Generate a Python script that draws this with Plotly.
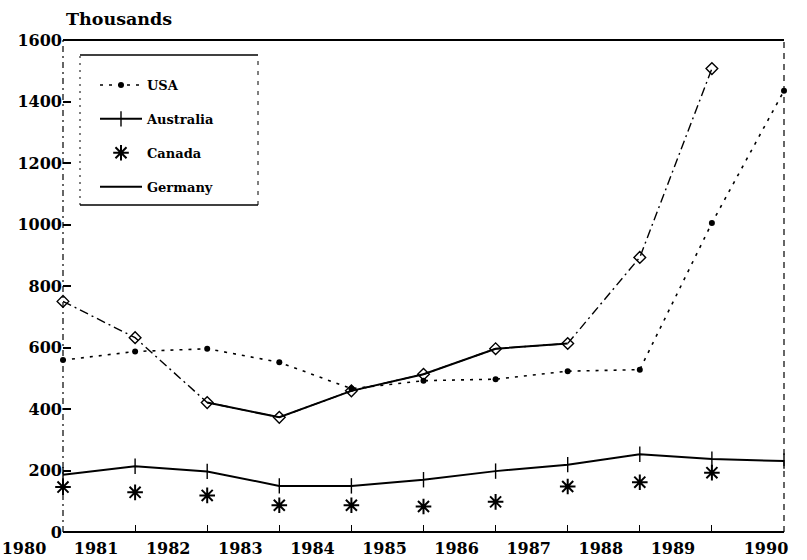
import plotly.graph_objects as go

# ---------------- data ----------------
years = [1980, 1981, 1982, 1983, 1984, 1985, 1986, 1987, 1988, 1989, 1990]
year_labels = ["1980", "1981", "1982", "1983", "1984", "1985", "1986", "1987", "1988", "1989", "1990"]
usa = [559, 587, 596, 552, 466, 492, 497, 523, 528, 1005, 1435]
australia = [186, 214, 197, 150, 150, 170, 198, 219, 253, 237, 231]
canada = [146, 129, 119, 87, 87, 83, 98, 148, 162, 193, None]
germany = [750, 632, 421, 373, 459, 513, 596, 613, 893, 1507, None]
y_ticks = [0, 200, 400, 600, 800, 1000, 1200, 1400, 1600]
y_tick_labels = ["0", "200", "400", "600", "800", "1000", "1200", "1400", "1600"]

# ---------------- layout constants (pixels) ----------------
W, H = 807, 560
ML, MR, MT, MB = 63, 23, 40, 28
PW = W - ML - MR
PH = H - MT - MB


def px_x(p):
    return (p - ML) / PW


def px_y(p):
    return (H - MB - p) / PH


FONT = "DejaVu Serif"
INK = "black"

fig = go.Figure()

fig.add_trace(go.Scatter(
    x=years, y=usa, name="<b>USA</b>", mode="lines+markers",
    line=dict(color=INK, width=1.6, dash="3px,6px"),
    marker=dict(symbol="circle", size=6, color=INK),
    legendgroup="usa", cliponaxis=False,
))
fig.add_trace(go.Scatter(
    x=years, y=australia, name="<b>Australia</b>", mode="lines+markers",
    line=dict(color=INK, width=2),
    marker=dict(symbol="line-ns", size=11, line=dict(color=INK, width=1.4)),
    legendgroup="aus", cliponaxis=False,
))
fig.add_trace(go.Scatter(
    x=years, y=canada, name="<b>Canada</b>", mode="markers",
    marker=dict(symbol="asterisk", size=13, line=dict(color=INK, width=2)),
    legendgroup="can", cliponaxis=False,
))
# Germany: dash-dot everywhere, solid overlay 1982-1987
fig.add_trace(go.Scatter(
    x=years, y=germany, name="<b>Germany</b>", mode="lines+markers",
    line=dict(color=INK, width=1.4, dash="9px,4px,2px,4px"),
    marker=dict(symbol="diamond-open", size=9, color=INK, line=dict(color=INK, width=1.4)),
    legendgroup="ger", showlegend=False, cliponaxis=False,
))
fig.add_trace(go.Scatter(
    x=years[2:8], y=germany[2:8], name="<b>Germany</b>", mode="lines",
    line=dict(color=INK, width=2),
    legendgroup="ger",
))
# carrier for the overlay axis holding the last year label
fig.add_trace(go.Scatter(
    x=years, y=[None] * len(years), xaxis="x2", mode="markers",
    showlegend=False, hoverinfo="skip",
))

frame = dict(xref="paper", yref="paper", type="line", layer="above")
shapes = [
    dict(frame, x0=0, x1=1, y0=0, y1=0, line=dict(color=INK, width=2)),
    dict(frame, x0=0, x1=1, y0=1, y1=1, line=dict(color=INK, width=2)),
    dict(frame, x0=0, x1=0, y0=0, y1=1, line=dict(color=INK, width=1.2, dash="6px,4px,2px,4px")),
    dict(frame, x0=1, x1=1, y0=0, y1=1, line=dict(color=INK, width=1.2, dash="6px,5px")),
]
# legend box
lx0, lx1, ly0, ly1 = px_x(80), px_x(258), px_y(205), px_y(55)
shapes += [
    dict(frame, x0=lx0, x1=lx1, y0=ly1, y1=ly1, line=dict(color=INK, width=1.6)),
    dict(frame, x0=lx0, x1=lx1, y0=ly0, y1=ly0, line=dict(color=INK, width=1.6)),
    dict(frame, x0=lx0, x1=lx0, y0=ly0, y1=ly1, line=dict(color=INK, width=1, dash="2px,5px")),
    dict(frame, x0=lx1, x1=lx1, y0=ly0, y1=ly1, line=dict(color=INK, width=1, dash="4px,6px")),
]

main_text = [f"<b>{t}</b>" for t in year_labels[:-1]] + [""]
last_text = [""] * (len(year_labels) - 1) + [f"<b>{year_labels[-1]}</b>"]

fig.update_layout(
    width=W, height=H,
    margin=dict(l=ML, r=MR, t=MT, b=MB, autoexpand=False),
    paper_bgcolor="white", plot_bgcolor="white",
    font=dict(family=FONT, color=INK, size=16),
    showlegend=True,
    legend=dict(
        x=px_x(95), y=px_y(70), xanchor="left", yanchor="top",
        bgcolor="rgba(0,0,0,0)", borderwidth=0, itemwidth=42,
        font=dict(family=FONT, size=13, color=INK),
        traceorder="grouped", tracegroupgap=14,
    ),
    xaxis=dict(
        range=[years[0], years[-1]], tickvals=years, ticktext=main_text,
        ticklabelshift=-39, ticklabelstandoff=5, automargin=False,
        ticks="inside", ticklen=7, tickwidth=1.2, tickcolor=INK,
        showgrid=False, zeroline=False, showline=False,
        tickfont=dict(family=FONT, size=16, color=INK),
    ),
    xaxis2=dict(
        overlaying="x", anchor="y", side="bottom", range=[years[0], years[-1]],
        tickvals=years, ticktext=last_text, ticklabelshift=-18, ticklabelstandoff=5,
        automargin=False, ticks="", showgrid=False, zeroline=False, showline=False,
        tickfont=dict(family=FONT, size=16, color=INK),
    ),
    yaxis=dict(
        range=[0, 1600], tickvals=y_ticks, ticktext=[f"<b>{t}</b>" for t in y_tick_labels],
        automargin=False,
        ticks="inside", ticklen=8, tickwidth=1.5, tickcolor=INK,
        showgrid=False, zeroline=False, showline=False,
        tickfont=dict(family=FONT, size=16, color=INK),
    ),
    shapes=shapes,
    annotations=[dict(
        text="<b>Thousands</b>", xref="paper", yref="paper",
        x=px_x(64), y=px_y(19), xanchor="left", yanchor="middle",
        showarrow=False, font=dict(family=FONT, size=17.5, color=INK),
    )],
)

fig.write_html(
    "out.html",
    config={"displayModeBar": False},
    post_script="document.body.style.margin='0';",
)
